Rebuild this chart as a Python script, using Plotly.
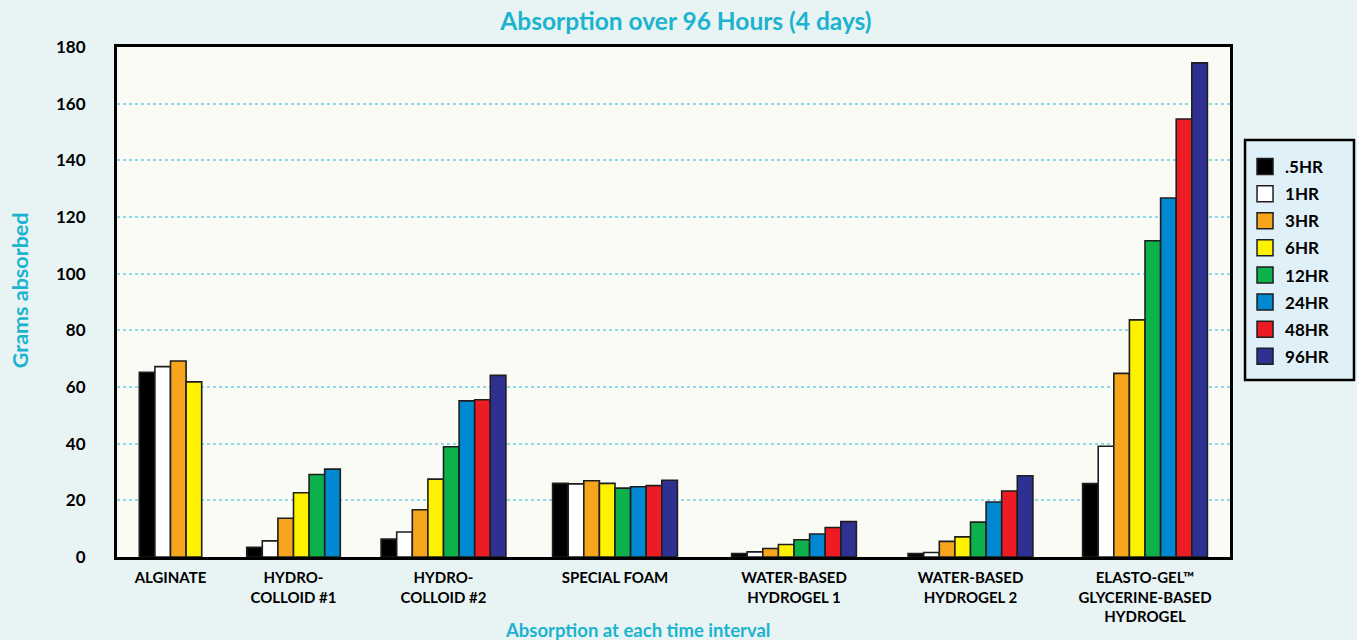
import plotly.graph_objects as go

categories = ["ALGINATE", "HYDRO-<br>COLLOID #1", "HYDRO-<br>COLLOID #2", "SPECIAL FOAM",
              "WATER-BASED<br>HYDROGEL 1", "WATER-BASED<br>HYDROGEL 2",
              "ELASTO-GEL™<br>GLYCERINE-BASED<br>HYDROGEL"]
series_names = [".5HR", "1HR", "3HR", "6HR", "12HR", "24HR", "48HR", "96HR"]

hr_05 = [65.2, 3.4, 6.3, 26.0, 1.2, 1.2, 25.9]
hr_1 = [67.2, 5.7, 8.8, 25.8, 1.8, 1.6, 39.1]
hr_3 = [69.2, 13.7, 16.7, 26.9, 3.0, 5.5, 64.8]
hr_6 = [61.8, 22.7, 27.5, 26.0, 4.4, 7.1, 83.7]
hr_12 = [None, 29.1, 38.9, 24.3, 6.1, 12.3, 111.6]
hr_24 = [None, 31.0, 55.1, 24.8, 8.1, 19.4, 126.7]
hr_48 = [None, None, 55.5, 25.2, 10.4, 23.3, 154.6]
hr_96 = [None, None, 64.1, 27.1, 12.5, 28.7, 174.4]
series_values = [hr_05, hr_1, hr_3, hr_6, hr_12, hr_24, hr_48, hr_96]

colors = ["#000000", "#ffffff", "#f7a51c", "#fff200", "#0db14b", "#0089d0", "#ed1c24", "#2e3192"]

# layout: group centre positions on the x axis and bar width (axis units)
cat_x = [53.5, 176.5, 326.5, 498, 677, 853.5, 1028]
bar_w = 15.6

counts = [sum(1 for s in series_values if s[c] is not None) for c in range(len(categories))]

FONT = "Lato"
TEAL = "#1bb3cf"

fig = go.Figure()
for i, (name, vals, col) in enumerate(zip(series_names, series_values, colors)):
    offs = [(i - counts[c] / 2) * bar_w for c in range(len(categories))]
    fig.add_trace(go.Bar(
        x=cat_x, y=vals, name=name, width=bar_w, offset=offs,
        marker=dict(color=col, line=dict(color="#1e1e1e", width=1.6)),
        legendgroup=name, showlegend=False,
    ))
# legend-only entries with larger square swatches
for name, col in zip(series_names, colors):
    fig.add_trace(go.Scatter(
        x=[None], y=[None], mode="markers", name=name, legendgroup=name,
        marker=dict(symbol="square", size=16, color=col, line=dict(color="#1e1e1e", width=1.5)),
    ))

decor = [
    # legend box
    dict(type="rect", xref="paper", yref="paper", x0=1.0135, x1=1.1114, y0=0.347, y1=0.8176,
         fillcolor="#dff0f8", line=dict(color="#000000", width=2.5), layer="below"),
]

fig.update_layout(
    width=1357, height=640,
    margin=dict(l=117, r=127, t=47, b=83),
    paper_bgcolor="#e8f3f4",
    plot_bgcolor="#fbfbf5",
    barmode="overlay",
    font=dict(family=FONT, color="#000000"),
    title=dict(text="<b>Absorption over 96 Hours (4 days)</b>", x=0.5055, xanchor="center",
               y=0.966, yanchor="middle", font=dict(size=24.5, color=TEAL, family=FONT)),
    showlegend=True,
    legend=dict(x=1.0135, xanchor="left", y=0.800, yanchor="top",
                bgcolor="rgba(0,0,0,0)", borderwidth=0,
                font=dict(size=17, color="#000000", family=FONT, weight="bold"),
                traceorder="grouped", tracegroupgap=2, itemwidth=30, itemsizing="trace"),
    xaxis=dict(range=[0, 1113], tickmode="array", tickvals=cat_x, ticktext=categories,
               tickfont=dict(size=15, family=FONT, color="#000000", weight="bold"),
               showline=True, mirror=True, linecolor="#000000", linewidth=3,
               showgrid=False, zeroline=False, ticks="", ticklabelstandoff=5),
    yaxis=dict(range=[0, 180], tickmode="array", tickvals=list(range(0, 181, 20)),
               tickfont=dict(size=17, family=FONT, color="#000000", weight="bold"),
               showline=True, mirror=True, linecolor="#000000", linewidth=3,
               showgrid=True, gridcolor="#8fd8ea", gridwidth=2, griddash="dot",
               zeroline=False, ticks="", ticklabelstandoff=25),
    shapes=decor,
    annotations=[
        dict(text="<b>Grams absorbed</b>", textangle=-90, xref="paper", yref="paper",
             x=-0.087, y=0.5235, xanchor="center", yanchor="middle", showarrow=False,
             font=dict(size=21.5, color=TEAL, family=FONT)),
        dict(text="<b>Absorption at each time interval</b>", xref="paper", yref="paper",
             x=0.468, y=-0.143, xanchor="center", yanchor="middle", showarrow=False,
             font=dict(size=18.5, color=TEAL, family=FONT)),
    ],
)

fig.write_html("out.html", config={"displayModeBar": False},
               post_script="document.body.style.margin='0';document.body.style.padding='0';")
